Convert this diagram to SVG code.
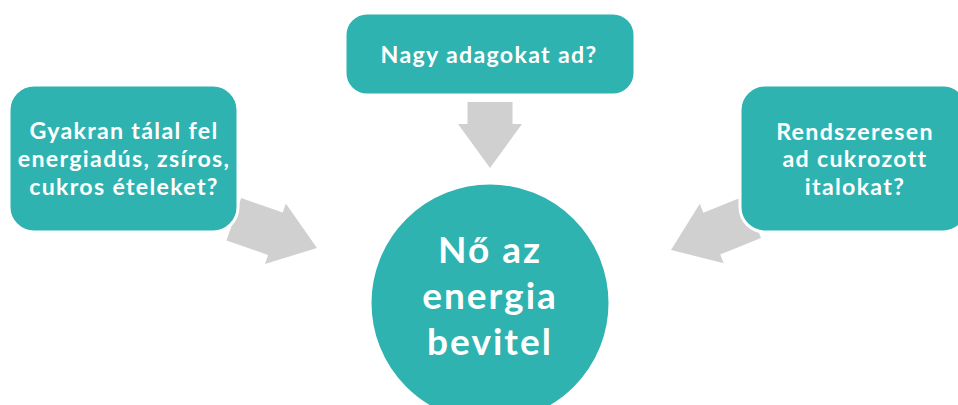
<svg xmlns="http://www.w3.org/2000/svg" width="958" height="405" viewBox="0 0 958 405">
<defs>
<style>
.box{fill:#2eb3b1;stroke:#ffffff;stroke-width:3}
.arrow{fill:#d0d0d0}
.t{font-family:Lato,"Open Sans","Liberation Sans",sans-serif;font-weight:bold;fill:#ffffff;text-anchor:middle}
.s{font-size:23.2px;letter-spacing:1.3px}
.b{font-size:37px;letter-spacing:2px}
</style>
<polygon id="arr" points="0,0 -44,-32 -44,-22.5 -88,-22.5 -88,22.5 -44,22.5 -44,32"/>
</defs>
<rect width="958" height="405" fill="#ffffff"/>
<g id="connectors">
<use href="#arr" class="arrow" transform="translate(317,248) rotate(19)"/>
<use href="#arr" class="arrow" transform="translate(671,250) rotate(158)"/>
<polygon class="arrow" points="467.5,102 512.5,102 512.5,124 522,124 490,168 458,124 467.5,124"/>
</g>
<g id="node-left">
<rect class="box" x="9" y="85" width="229" height="147" rx="25"/>
<text class="t s" x="124"><tspan x="124" y="139">Gyakran tálal fel</tspan><tspan x="124" y="167">energiadús, zsíros,</tspan><tspan x="124" y="195">cukros ételeket?</tspan></text>
</g>
<g id="node-top">
<rect class="box" x="345" y="13" width="290" height="82" rx="22"/>
<text class="t s" x="489" y="63">Nagy adagokat ad?</text>
</g>
<g id="node-right">
<rect class="box" x="740" y="85" width="228" height="147" rx="25"/>
<text class="t s" x="855"><tspan x="855" y="140">Rendszeresen</tspan><tspan x="855" y="167">ad cukrozott</tspan><tspan x="855" y="195">italokat?</tspan></text>
</g>
<g id="node-center">
<circle class="box" cx="490" cy="303" r="120" stroke-width="0"/>
<text class="t b" x="490"><tspan x="490" y="263">Nő az</tspan><tspan x="490" y="309">energia</tspan><tspan x="490" y="355">bevitel</tspan></text>
</g>
</svg>
